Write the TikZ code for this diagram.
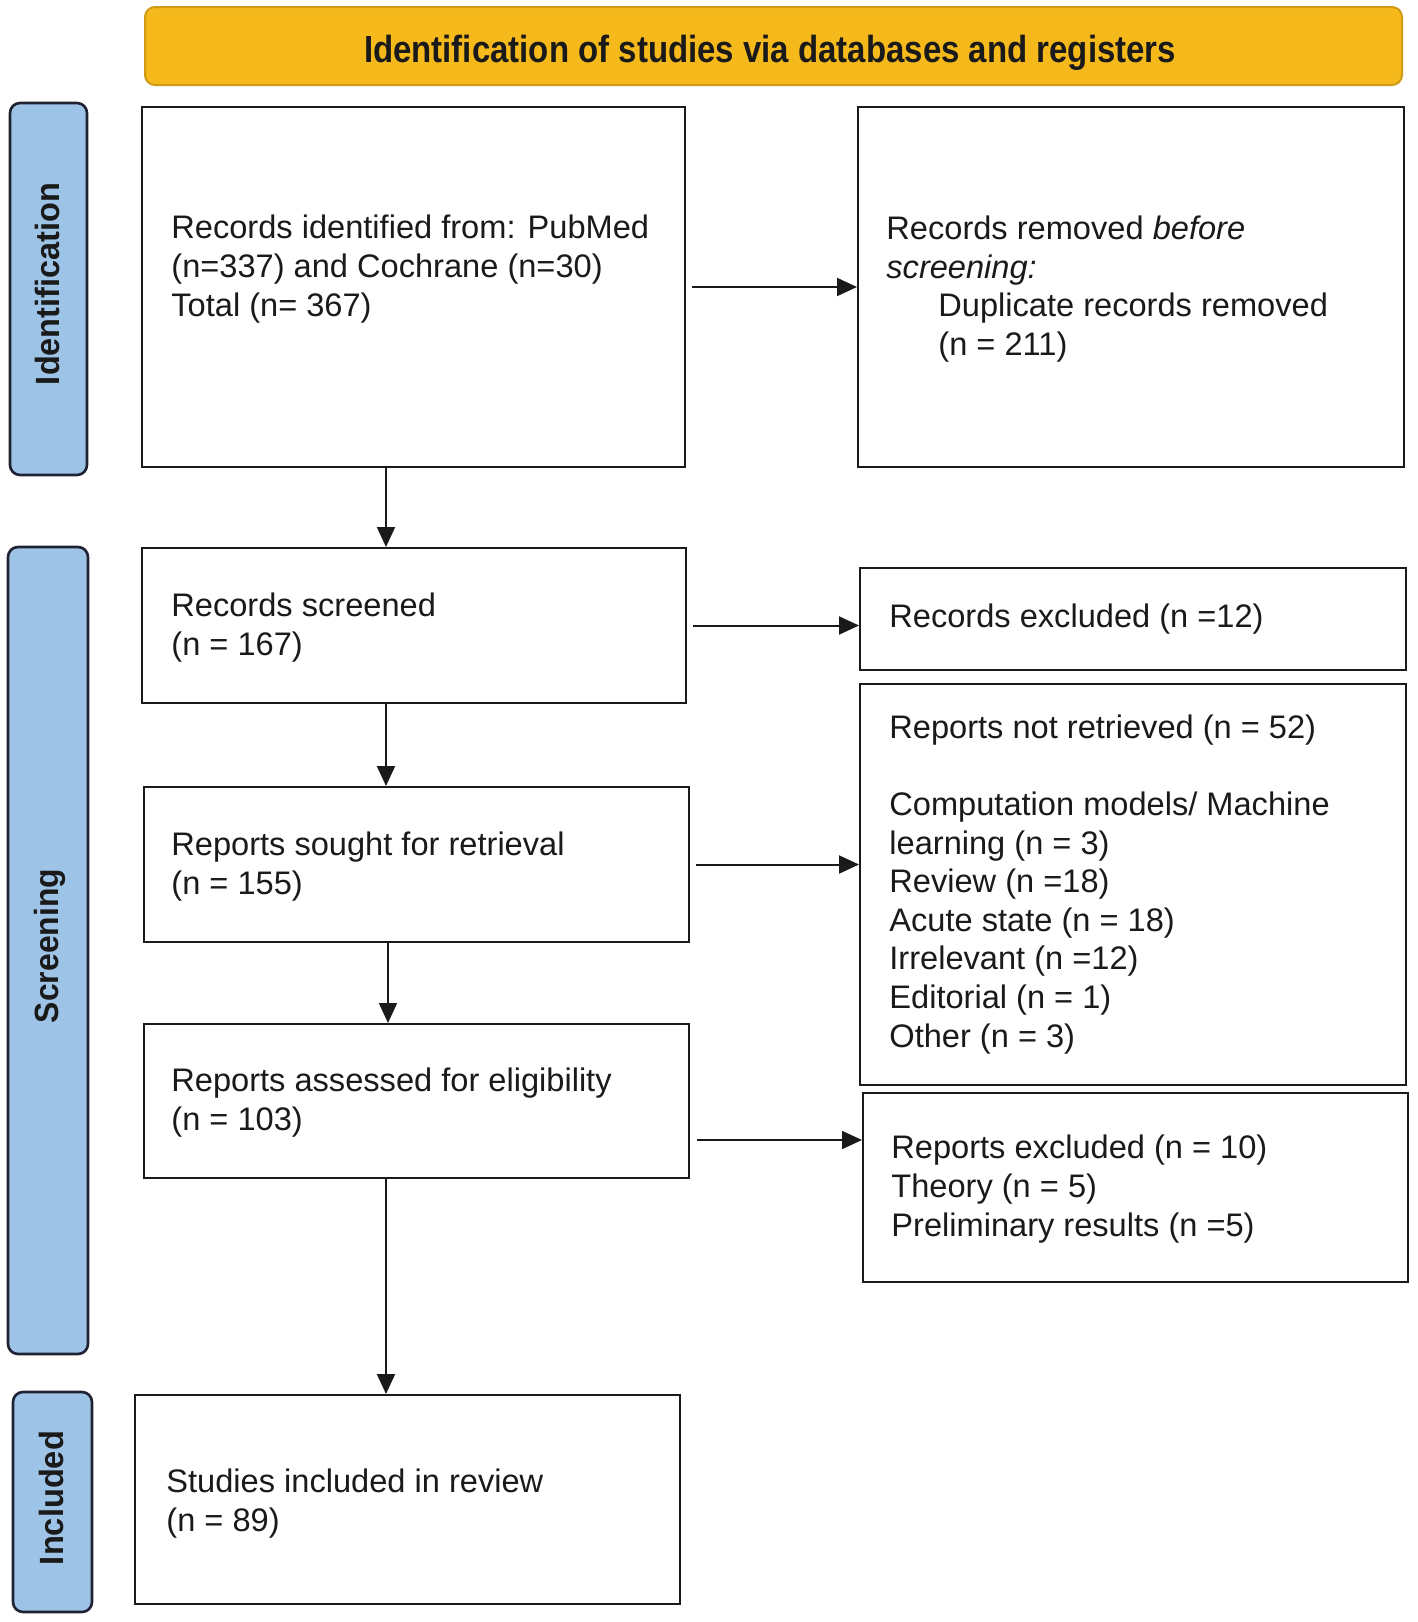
\documentclass[tikz,border=0pt]{standalone}
\usepackage{fontspec}
\setmainfont{Liberation Sans}
\usepackage{graphicx}
\usetikzlibrary{arrows.meta,calc}
\definecolor{bannerfill}{HTML}{F5B91C}
\definecolor{bannerdraw}{HTML}{CF9A14}
\definecolor{labfill}{HTML}{9DC3E6}
\definecolor{labdraw}{HTML}{1E2233}
\definecolor{ink}{HTML}{1A1A1A}
\tikzset{
  box/.style={draw=ink, line width=1pt, inner sep=0pt, fill=white},
  lab/.style={draw=labdraw, line width=1.3pt, rounded corners=5pt, fill=labfill, inner sep=0pt},
  labtxt/.style={anchor=base, rotate=90, inner sep=0pt, text=ink, font=\bfseries\fontsize{16.8}{18}\selectfont},
  txt/.style={anchor=base west, align=left, inner sep=0pt, text=ink, font=\fontsize{16.3}{19.3}\selectfont},
  arr/.style={draw=ink, line width=1pt, -{Triangle[length=10pt,width=9pt]}}
}
\begin{document}
\begin{tikzpicture}[x=0.5pt,y=-0.5pt]
\useasboundingbox (0,0) rectangle (1418,1622);
% banner
\node[draw=bannerdraw, line width=1pt, rounded corners=5pt, fill=bannerfill, minimum width=628.5pt, minimum height=39pt, inner sep=0pt] (banner) at (773.5,46) {};
\node[anchor=base, inner sep=0pt, text=ink] (bannertxt) at (770,62) {\resizebox{406pt}{\height}{\bfseries\fontsize{18.9}{20}\selectfont Identification of studies via databases and registers}};
% side labels
\node[lab, minimum width=38.5pt, minimum height=186pt] (L1) at (48.5,289) {};
\node[labtxt] (L1t) at (59,284) {\resizebox{101pt}{\height}{Identification}};
\node[lab, minimum width=40pt, minimum height=403.5pt] (L2) at (48,950.5) {};
\node[labtxt] (L2t) at (58,946) {\resizebox{77pt}{\height}{Screening}};
\node[lab, minimum width=39.5pt, minimum height=110pt] (L3) at (52.5,1502) {};
\node[labtxt] (L3t) at (63,1498) {\resizebox{67pt}{\height}{Included}};
% boxes
\node[box, minimum width=271.5pt, minimum height=180pt] (b1) at (413.5,287) {};
\node[box, minimum width=273pt, minimum height=180pt] (b2) at (1131,287) {};
\node[box, minimum width=272pt, minimum height=77.5pt] (b3) at (414,625.5) {};
\node[box, minimum width=273pt, minimum height=51pt] (b4) at (1133,619) {};
\node[box, minimum width=272.5pt, minimum height=77.5pt] (b5) at (416.5,864.5) {};
\node[box, minimum width=273pt, minimum height=200.5pt] (b6) at (1133,884.5) {};
\node[box, minimum width=272.5pt, minimum height=77pt] (b7) at (416.5,1101) {};
\node[box, minimum width=272.5pt, minimum height=94.5pt] (b8) at (1135.5,1187.5) {};
\node[box, minimum width=272.5pt, minimum height=104.5pt] (b9) at (407.5,1499.5) {};
% texts (anchor = baseline of the last line)
\node[txt] (t1) at (171,316) {Records identified from: PubMed\\(n=337) and Cochrane (n=30)\\Total (n= 367)};
\node[txt] (t2a) at (886,278) {Records removed \textit{before}\\\textit{screening:}};
\node[txt] (t2b) at (938,355) {Duplicate records removed\\(n = 211)};
\node[txt] (t3) at (171,655) {Records screened\\(n = 167)};
\node[txt] (t4) at (889,627) {Records excluded (n =12)};
\node[txt] (t5) at (171,894) {Reports sought for retrieval\\(n = 155)};
\node[txt] (t6) at (889,1047) {Reports not retrieved (n = 52)\\[19.3pt]Computation models/ Machine\\learning (n = 3)\\Review (n =18)\\Acute state (n = 18)\\Irrelevant (n =12)\\Editorial (n = 1)\\Other (n = 3)};
\node[txt] (t7) at (171,1130) {Reports assessed for eligibility\\(n = 103)};
\node[txt] (t8) at (891,1236) {Reports excluded (n = 10)\\Theory (n = 5)\\Preliminary results (n =5)};
\node[txt] (t9) at (166,1531) {Studies included in review\\(n = 89)};
% connectors
\coordinate (ax) at (386,0);
\coordinate (ax2) at (388,0);
\coordinate (ay) at (0,1140);
\draw[arr] (b1.south -| ax) -- (b3.north -| ax);
\draw[arr] (b3.south -| ax) -- (b5.north -| ax);
\draw[arr] (b5.south -| ax2) -- (b7.north -| ax2);
\draw[arr] (b7.south -| ax) -- (b9.north -| ax);
\draw[arr] ($(b1.east)+(6,0)$) -- (b1.east -| b2.west);
\draw[arr] ($(b3.east)+(6,0)$) -- (b3.east -| b4.west);
\draw[arr] ($(b5.east)+(6,0)$) -- (b5.east -| b6.west);
\draw[arr] ($(b7.east |- ay)+(7,0)$) -- (b8.west |- ay);
\end{tikzpicture}
\end{document}
